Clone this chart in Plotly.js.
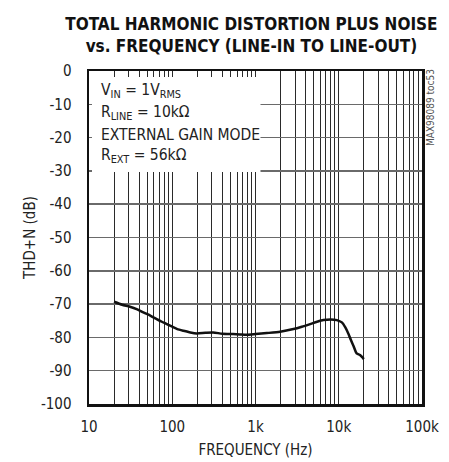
<!DOCTYPE html>
<html>
<head>
<meta charset="utf-8">
<script src="https://cdn.plot.ly/plotly-3.0.1.min.js"></script>
<style>html,body{margin:0;padding:0;background:#fff;}#chart{width:449px;height:462px;}</style>
</head>
<body>
<div id="chart"></div>
<script>
// Frequency (Hz) and THD+N (dB)
const freqHz = [20, 25, 31, 38, 45, 55, 65, 75, 86, 100, 115, 136, 165, 197, 250, 310, 400, 537, 650, 785, 1000, 1368, 1976, 2858, 3600, 4530, 5500, 6545, 8000, 9480, 10900, 12000, 13100, 14000, 15000, 16400, 18000, 20000];
const thdDb  = [-69.3, -70.2, -70.8, -71.6, -72.5, -73.5, -74.5, -75.3, -76.0, -76.8, -77.5, -78.0, -78.5, -78.8, -78.6, -78.5, -78.9, -79.0, -79.1, -79.2, -79.0, -78.7, -78.3, -77.5, -76.8, -76.0, -75.3, -74.8, -74.6, -74.8, -75.5, -77.0, -79.0, -80.8, -82.5, -84.8, -85.3, -86.5];

const xTickVals = [10, 100, 1000, 10000, 100000];
const xTickText = ['10', '100', '1k', '10k', '100k'];
const xMinorVals = [20,30,40,50,60,70,80,90,200,300,400,500,600,700,800,900,2000,3000,4000,5000,6000,7000,8000,9000,20000,30000,40000,50000,60000,70000,80000,90000];
const yTickVals = [0,-10,-20,-30,-40,-50,-60,-70,-80,-90,-100];
const yTickText = ['0','-10','-20','-30','-40','-50','-60','-70','-80','-90','-100'];

const titleText = 'TOTAL HARMONIC DISTORTION PLUS NOISE<br>vs. FREQUENCY (LINE-IN TO LINE-OUT)';
const xTitle = 'FREQUENCY (Hz)';
const yTitle = 'THD+N (dB)';
const noteLines = ['V<sub>IN</sub> = 1V<sub>RMS</sub>', 'R<sub>LINE</sub> = 10kΩ', 'EXTERNAL GAIN MODE', 'R<sub>EXT</sub> = 56kΩ'];
const sideNote = 'MAX98089 toc53';

const FONT = '"DejaVu Sans Condensed", "Liberation Sans Narrow", sans-serif';
const noteY = [0.94, 0.874, 0.808, 0.745];

const annotations = noteLines.map((t, i) => ({
  xref: 'paper', yref: 'paper', x: 0.03, y: noteY[i], xanchor: 'left', yanchor: 'middle',
  text: t, showarrow: false, font: {family: FONT, size: 15.5, color: '#222'}
}));
annotations.push({
  xref: 'paper', yref: 'paper', x: 1.025, y: 0.89, xanchor: 'center', yanchor: 'middle',
  text: sideNote, textangle: -90, showarrow: false, font: {family: FONT, size: 10, color: '#555'}
});

const data = [{
  x: freqHz, y: thdDb, type: 'scatter', mode: 'lines',
  line: {color: '#111', width: 2.5, shape: 'spline', smoothing: 0.6},
  hoverinfo: 'skip'
}];

const layout = {
  width: 449, height: 462,
  margin: {l: 89, r: 27, t: 71, b: 58},
  paper_bgcolor: '#fff', plot_bgcolor: '#fff',
  showlegend: false,
  font: {family: FONT, size: 15, color: '#222'},
  title: {text: titleText, font: {family: FONT, size: 17, color: '#111', weight: 'bold'},
          x: 0.56, xanchor: 'center', y: 0.935, yanchor: 'top', yref: 'container'},
  xaxis: {
    type: 'log', range: [1, 5], tickmode: 'array', tickvals: xTickVals, ticktext: xTickText,
    showgrid: true, gridcolor: '#2a2a2a', gridwidth: 1,
    minor: {tickmode: 'array', tickvals: xMinorVals, showgrid: true, gridcolor: '#2a2a2a', gridwidth: 1, ticks: ''},
    showline: true, linecolor: '#111', linewidth: 2.5, mirror: true,
    ticks: '', ticklabelstandoff: 7, zeroline: false,
    tickfont: {family: FONT, size: 15, color: '#222'},
    title: {text: xTitle, font: {family: FONT, size: 15, color: '#222'}, standoff: 10}
  },
  yaxis: {
    range: [-100, 0], tickmode: 'array', tickvals: yTickVals, ticktext: yTickText,
    showgrid: true, gridcolor: '#6a6a6a', gridwidth: 1.5,
    showline: true, linecolor: '#111', linewidth: 2.5, mirror: true,
    ticks: '', ticklabelstandoff: 12, zeroline: false,
    tickfont: {family: FONT, size: 15, color: '#222'},
    title: {text: yTitle, font: {family: FONT, size: 15, color: '#222'}, standoff: 2}
  },
  shapes: [{
    type: 'rect', xref: 'paper', yref: 'paper', x0: 0.009, x1: 0.515, y0: 0.697, y1: 0.982,
    fillcolor: '#fff', line: {width: 0}, layer: 'above'
  }],
  annotations: annotations
};

Plotly.newPlot('chart', data, layout, {staticPlot: true, displayModeBar: false});
</script>
</body>
</html>
